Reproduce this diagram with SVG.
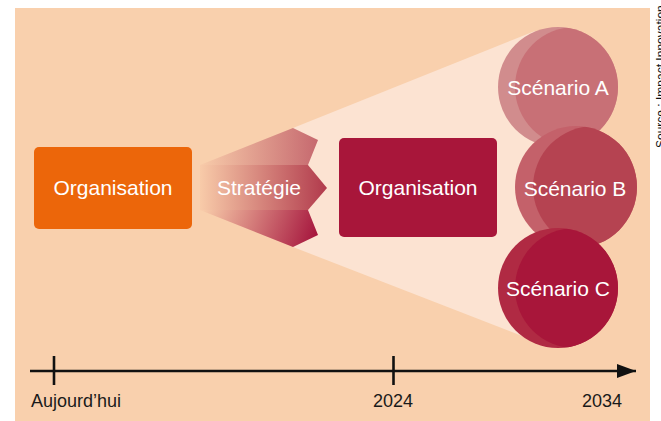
<svg xmlns="http://www.w3.org/2000/svg" width="661" height="421" viewBox="0 0 661 421">
  <style>
    .lbl { font-family: "Liberation Sans", Arial, sans-serif; font-size: 21px; fill: #ffffff; text-anchor: middle; }
    .axis { font-family: "Liberation Sans", Arial, sans-serif; font-size: 18px; fill: #1a1a1a; }
    .tl { stroke: #111111; stroke-width: 2.6; fill: none; }
  </style>
  <defs>
    <linearGradient id="gTop" x1="200" y1="0" x2="318" y2="0" gradientUnits="userSpaceOnUse">
      <stop offset="0" stop-color="#F8CCAA"/>
      <stop offset="1" stop-color="#C6696F"/>
    </linearGradient>
    <linearGradient id="gMid" x1="200" y1="0" x2="327" y2="0" gradientUnits="userSpaceOnUse">
      <stop offset="0" stop-color="#F8CBA9"/>
      <stop offset="1" stop-color="#B13A4C"/>
    </linearGradient>
    <linearGradient id="gBot" x1="205" y1="205" x2="318" y2="245" gradientUnits="userSpaceOnUse">
      <stop offset="0" stop-color="#F8CBA9"/>
      <stop offset="1" stop-color="#A3103A"/>
    </linearGradient>
    <clipPath id="cA"><circle cx="558" cy="87" r="60"/></clipPath>
    <clipPath id="cB"><circle cx="576" cy="187" r="61"/></clipPath>
    <clipPath id="cC"><circle cx="558" cy="288" r="60"/></clipPath>
    <marker id="arr" markerWidth="20" markerHeight="14" refX="19" refY="7" orient="auto" markerUnits="userSpaceOnUse">
      <path d="M0,0 L19,7 L0,14 Z" fill="#111111"/>
    </marker>
  </defs>

  <rect x="15" y="8" width="635" height="413" fill="#F9D0AD"/>

  <text transform="translate(665,148) rotate(-90)" font-family="Liberation Sans, Arial, sans-serif" font-size="12" fill="#111111">Source : Impact Innovation</text>

  <polygon id="funnel" points="293,128 535,31 560,87 560,288 535,341 293,247" fill="#FCE3D2"/>

  <g id="node-organisation-1">
    <rect x="34" y="147" width="158" height="82" rx="5" fill="#EC660A"/>
    <text class="lbl" x="113" y="195">Organisation</text>
  </g>

  <g id="node-strategie">
    <polygon points="200,165 293,128 318,140 308,165" fill="url(#gTop)"/>
    <polygon points="200,165 308,165 327,188 308,210 200,210" fill="url(#gMid)"/>
    <polygon points="200,210 308,210 318,235 293,247" fill="url(#gBot)"/>
    <text class="lbl" x="259" y="195">Stratégie</text>
  </g>

  <g id="node-organisation-2">
    <rect x="339" y="138" width="158" height="99" rx="5" fill="#A8163A"/>
    <text class="lbl" x="418" y="195">Organisation</text>
  </g>

  <g id="node-scenario-a">
    <circle cx="558" cy="87" r="60" fill="#D18C8D"/>
    <circle cx="575" cy="87" r="60" fill="#C87076" clip-path="url(#cA)"/>
    <text class="lbl" x="558" y="95">Scénario A</text>
  </g>

  <g id="node-scenario-b">
    <circle cx="576" cy="187" r="61" fill="#C4616A"/>
    <circle cx="594" cy="187" r="61" fill="#B54351" clip-path="url(#cB)"/>
    <text class="lbl" x="575" y="196">Scénario B</text>
  </g>

  <g id="node-scenario-c">
    <circle cx="558" cy="288" r="60" fill="#B02A43"/>
    <circle cx="575" cy="288" r="60" fill="#A8163A" clip-path="url(#cC)"/>
    <text class="lbl" x="558" y="296">Scénario C</text>
  </g>

  <g id="connectors">
    <line class="tl" x1="30" y1="371" x2="636" y2="371" marker-end="url(#arr)"/>
    <line class="tl" x1="54" y1="356" x2="54" y2="385"/>
    <line class="tl" x1="393.5" y1="356" x2="393.5" y2="385"/>
  </g>

  <g id="axis-labels">
    <text class="axis" x="31" y="407">Aujourd’hui</text>
    <text class="axis" x="393" y="407" text-anchor="middle">2024</text>
    <text class="axis" x="622" y="407" text-anchor="end">2034</text>
  </g>
</svg>
